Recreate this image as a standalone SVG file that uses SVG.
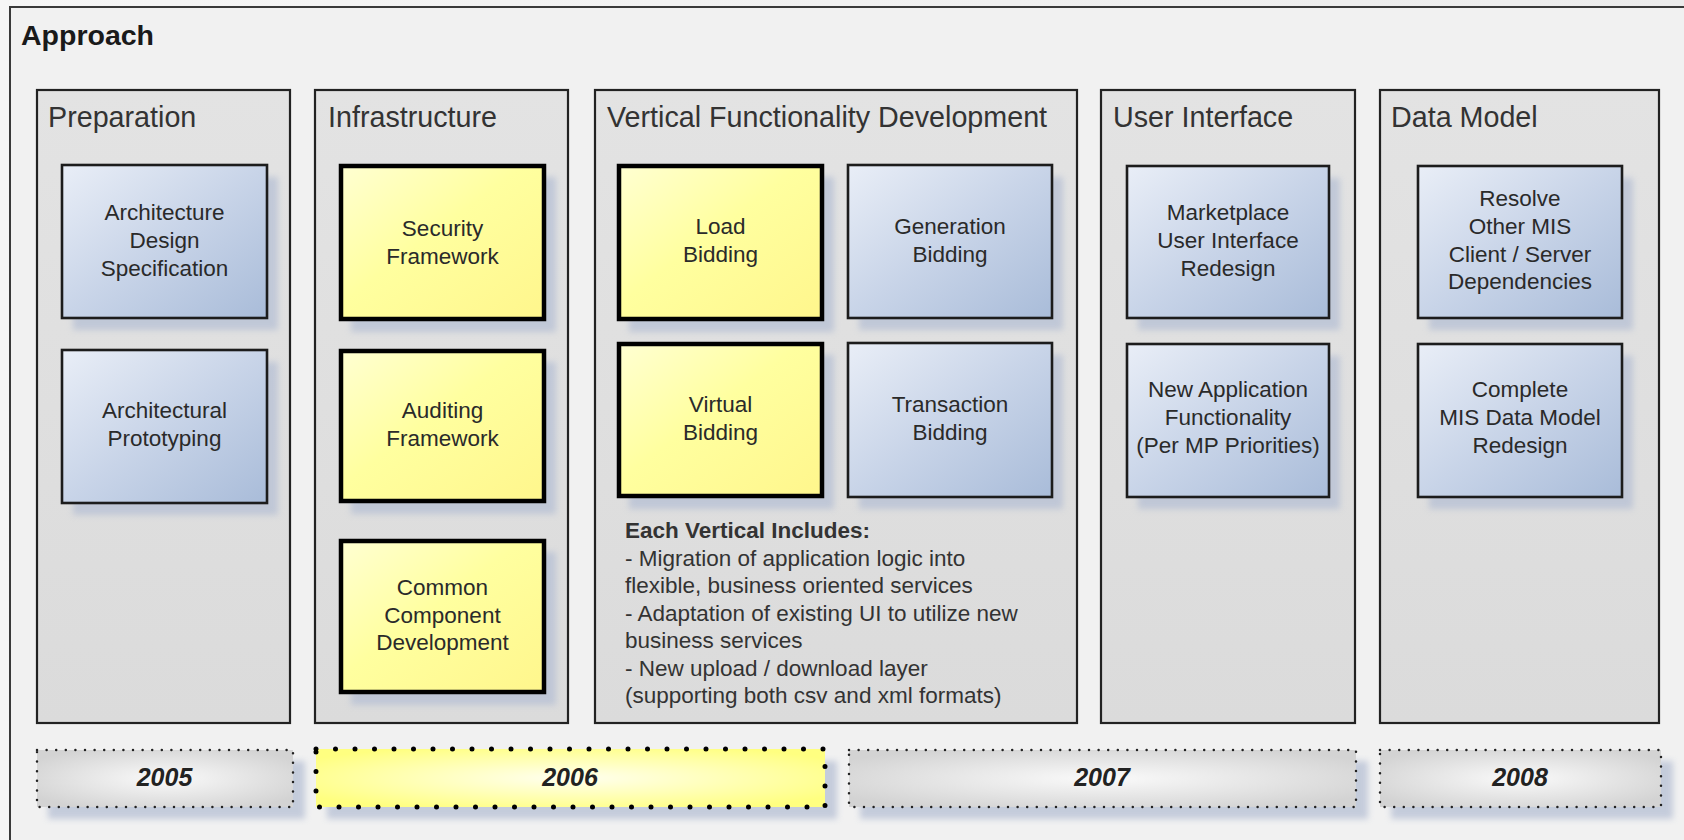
<svg xmlns="http://www.w3.org/2000/svg" width="1684" height="840" viewBox="0 0 1684 840">
<defs>
<linearGradient id="bg" x1="0" y1="0" x2="1" y2="0">
<stop offset="0" stop-color="#f6f6f6"/><stop offset="1" stop-color="#ececec"/>
</linearGradient>
<linearGradient id="col" x1="0" y1="0" x2="0" y2="1">
<stop offset="0" stop-color="#e3e3e3"/><stop offset="1" stop-color="#dbdbdb"/>
</linearGradient>
<linearGradient id="blue" x1="0" y1="0" x2="1" y2="1">
<stop offset="0" stop-color="#e9eef7"/><stop offset="0.5" stop-color="#c8d4e8"/><stop offset="1" stop-color="#a9bcd9"/>
</linearGradient>
<linearGradient id="yel" x1="0" y1="0" x2="1" y2="1">
<stop offset="0" stop-color="#ffffd2"/><stop offset="0.45" stop-color="#ffff9f"/><stop offset="1" stop-color="#fff68c"/>
</linearGradient>
<radialGradient id="ygrey" cx="0.5" cy="0.5" r="0.6">
<stop offset="0" stop-color="#fafafa"/><stop offset="1" stop-color="#d3d3d3"/>
</radialGradient>
<radialGradient id="yyel" cx="0.5" cy="0.5" r="0.6">
<stop offset="0" stop-color="#fffff0"/><stop offset="1" stop-color="#ffff80"/>
</radialGradient>
<filter id="blur" x="-10%" y="-10%" width="120%" height="120%">
<feGaussianBlur stdDeviation="3"/>
</filter>
<style>
.frame{fill:#f1f1f1;stroke:#3a3a3a;stroke-width:2}
.col{fill:url(#col);stroke:#222;stroke-width:2.2}
.sh{fill:#b6c0d4;opacity:0.75;filter:url(#blur)}
.bn{fill:url(#blue);stroke:#1c1c1c;stroke-width:2.6}
.yn{fill:url(#yel);stroke:#000;stroke-width:4.5}
.ttl{font-family:"Liberation Sans",Arial,sans-serif;font-size:28.7px;fill:#333}
.hd{font-family:"Liberation Sans",Arial,sans-serif;font-size:28.5px;font-weight:bold;fill:#1a1a1a}
.nt{font-family:"Liberation Sans",Arial,sans-serif;font-size:22.5px;fill:#2a2a2a;text-anchor:middle}
.bt{font-family:"Liberation Sans",Arial,sans-serif;font-size:22.5px;fill:#333}
.yr{font-family:"Liberation Sans",Arial,sans-serif;font-size:25px;font-weight:bold;font-style:italic;fill:#222;text-anchor:middle}
.yg{fill:url(#ygrey);stroke:#222;stroke-width:2.5;stroke-linecap:round;stroke-dasharray:0 9.6}
.yy{fill:url(#yyel);stroke:#000;stroke-width:5;stroke-linecap:round;stroke-dasharray:0 19.5}
</style>
</defs>
<rect x="0" y="0" width="1684" height="840" fill="url(#bg)"/>
<rect class="frame" x="10" y="7" width="1690" height="850"/>
<text class="hd" x="21" y="45">Approach</text>

<g id="col-preparation">
<rect class="col" x="37" y="90" width="253" height="633"/>
<text class="ttl" x="48" y="127">Preparation</text>
</g>
<g id="col-infrastructure">
<rect class="col" x="315" y="90" width="253" height="633"/>
<text class="ttl" x="328" y="127">Infrastructure</text>
</g>
<g id="col-vertical">
<rect class="col" x="595" y="90" width="482" height="633"/>
<text class="ttl" x="607" y="127">Vertical Functionality Development</text>
<text class="bt" x="625" y="538"><tspan font-weight="bold">Each Vertical Includes:</tspan><tspan x="625" y="565.5">- Migration of application logic into</tspan><tspan x="625" y="593">flexible, business oriented services</tspan><tspan x="625" y="620.5">- Adaptation of existing UI to utilize new</tspan><tspan x="625" y="648">business services</tspan><tspan x="625" y="675.5">- New upload / download layer</tspan><tspan x="625" y="703">(supporting both csv and xml formats)</tspan></text>
</g>
<g id="col-ui">
<rect class="col" x="1101" y="90" width="254" height="633"/>
<text class="ttl" x="1113" y="127">User Interface</text>
</g>
<g id="col-datamodel">
<rect class="col" x="1380" y="90" width="279" height="633"/>
<text class="ttl" x="1391" y="127">Data Model</text>
</g>

<g id="n-arch-design">
<rect class="sh" x="73" y="177" width="205" height="153"/>
<rect class="bn" x="62" y="165" width="205" height="153"/>
<text class="nt" x="164.5" y="220">Architecture<tspan x="164.5" y="248">Design</tspan><tspan x="164.5" y="276">Specification</tspan></text>
</g>
<g id="n-arch-proto">
<rect class="sh" x="73" y="362" width="205" height="153"/>
<rect class="bn" x="62" y="350" width="205" height="153"/>
<text class="nt" x="164.5" y="418">Architectural<tspan x="164.5" y="446">Prototyping</tspan></text>
</g>

<g id="n-security">
<rect class="sh" x="351" y="177" width="205" height="155"/>
<rect class="yn" x="341" y="166" width="203" height="153"/>
<text class="nt" x="442.5" y="236">Security<tspan x="442.5" y="264">Framework</tspan></text>
</g>
<g id="n-auditing">
<rect class="sh" x="351" y="362" width="205" height="152"/>
<rect class="yn" x="341" y="351" width="203" height="150"/>
<text class="nt" x="442.5" y="418">Auditing<tspan x="442.5" y="446">Framework</tspan></text>
</g>
<g id="n-common">
<rect class="sh" x="351" y="552" width="205" height="153"/>
<rect class="yn" x="341" y="541" width="203" height="151"/>
<text class="nt" x="442.5" y="595">Common<tspan x="442.5" y="623">Component</tspan><tspan x="442.5" y="650">Development</tspan></text>
</g>

<g id="n-load">
<rect class="sh" x="629" y="177" width="205" height="155"/>
<rect class="yn" x="619" y="166" width="203" height="153"/>
<text class="nt" x="720.5" y="234">Load<tspan x="720.5" y="262">Bidding</tspan></text>
</g>
<g id="n-generation">
<rect class="sh" x="859" y="177" width="204" height="153"/>
<rect class="bn" x="848" y="165" width="204" height="153"/>
<text class="nt" x="950" y="234">Generation<tspan x="950" y="262">Bidding</tspan></text>
</g>
<g id="n-virtual">
<rect class="sh" x="629" y="355" width="205" height="154"/>
<rect class="yn" x="619" y="344" width="203" height="152"/>
<text class="nt" x="720.5" y="412">Virtual<tspan x="720.5" y="440">Bidding</tspan></text>
</g>
<g id="n-transaction">
<rect class="sh" x="859" y="355" width="204" height="154"/>
<rect class="bn" x="848" y="343" width="204" height="154"/>
<text class="nt" x="950" y="412">Transaction<tspan x="950" y="440">Bidding</tspan></text>
</g>

<g id="n-marketplace">
<rect class="sh" x="1138" y="178" width="202" height="152"/>
<rect class="bn" x="1127" y="166" width="202" height="152"/>
<text class="nt" x="1228" y="220">Marketplace<tspan x="1228" y="248">User Interface</tspan><tspan x="1228" y="276">Redesign</tspan></text>
</g>
<g id="n-newapp">
<rect class="sh" x="1138" y="356" width="202" height="153"/>
<rect class="bn" x="1127" y="344" width="202" height="153"/>
<text class="nt" x="1228" y="397">New Application<tspan x="1228" y="425">Functionality</tspan><tspan x="1228" y="453">(Per MP Priorities)</tspan></text>
</g>

<g id="n-resolve">
<rect class="sh" x="1429" y="178" width="204" height="152"/>
<rect class="bn" x="1418" y="166" width="204" height="152"/>
<text class="nt" x="1520" y="206">Resolve<tspan x="1520" y="234">Other MIS</tspan><tspan x="1520" y="262">Client / Server</tspan><tspan x="1520" y="289">Dependencies</tspan></text>
</g>
<g id="n-complete">
<rect class="sh" x="1429" y="356" width="204" height="153"/>
<rect class="bn" x="1418" y="344" width="204" height="153"/>
<text class="nt" x="1520" y="397">Complete<tspan x="1520" y="425">MIS Data Model</tspan><tspan x="1520" y="453">Redesign</tspan></text>
</g>

<g id="y-2005">
<rect class="sh" x="48" y="761" width="257" height="58"/>
<rect class="yg" x="37" y="750" width="256" height="57"/>
<text class="yr" x="164.5" y="786">2005</text>
</g>
<g id="y-2006">
<rect class="sh" x="327" y="761" width="510" height="58"/>
<rect class="yy" x="316" y="749" width="509" height="58"/>
<text class="yr" x="570" y="786">2006</text>
</g>
<g id="y-2007">
<rect class="sh" x="860" y="761" width="508" height="58"/>
<rect class="yg" x="849" y="750" width="507" height="57"/>
<text class="yr" x="1102" y="786">2007</text>
</g>
<g id="y-2008">
<rect class="sh" x="1391" y="761" width="282" height="58"/>
<rect class="yg" x="1380" y="750" width="281" height="57"/>
<text class="yr" x="1520" y="786">2008</text>
</g>
</svg>
